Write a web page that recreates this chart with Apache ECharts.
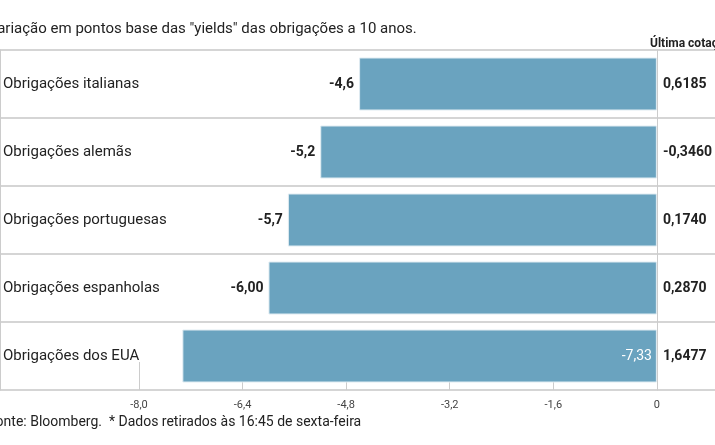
<!DOCTYPE html>
<html>
<head>
<meta charset="utf-8">
<script src="https://cdn.jsdelivr.net/npm/echarts@6/dist/echarts.min.js"></script>
<style>body{margin:0}#c{width:715px;height:445px}</style>
</head>
<body>
<div id="c"></div>
<script>
var categories = ['Obrigações italianas', 'Obrigações alemãs', 'Obrigações portuguesas', 'Obrigações espanholas', 'Obrigações dos EUA'];
var values = [-4.6, -5.2, -5.7, -6.00, -7.33];
var valueLabels = ['-4,6', '-5,2', '-5,7', '-6,00', '-7,33'];
var quotes = ['0,6185', '-0,3460', '0,1740', '0,2870', '1,6477'];
var F = '"Liberation Sans Narrow", "Roboto", sans-serif';

var chart = echarts.init(document.getElementById('c'));
chart.setOption({
  animation: false,
  textStyle: { fontFamily: F },
  title: [
    { text: 'Variação em pontos base das "yields" das obrigações a 10 anos.', left: -17, top: 17,
      textStyle: { fontSize: 15, fontWeight: 'normal', color: '#222', fontFamily: F } },
    { text: 'Última cotação*', left: 645, top: 33,
      textStyle: { fontSize: 12, fontWeight: 'bold', color: '#222', fontFamily: F } },
    { text: 'Fonte: Bloomberg.  * Dados retirados às 16:45 de sexta-feira', left: -17, top: 410,
      textStyle: { fontSize: 14, fontWeight: 'normal', color: '#222', fontFamily: F } }
  ],
  grid: [
    { left: 127, right: 52, top: 50, bottom: 55 },
    { left: 0, right: 0, top: 50, bottom: 55 }
  ],
  xAxis: [
    { type: 'value', gridIndex: 0, min: -8, max: 0, interval: 1.6,
      axisLine: { show: false }, splitLine: { show: false },
      axisTick: { show: true, inside: true, length: 28, lineStyle: { color: '#ccc' } },
      axisLabel: { color: '#444', fontSize: 11, margin: 10,
        formatter: function (v) { return v === 0 ? '0' : v.toFixed(1).replace('.', ','); } } },
    { type: 'value', gridIndex: 1, show: false, min: 0, max: 1 }
  ],
  yAxis: [
    { type: 'category', gridIndex: 0, data: categories, inverse: true, position: 'left',
      axisLine: { show: false }, axisTick: { show: false },
      axisLabel: { align: 'left', margin: 136, fontSize: 15, color: '#222' } },
    { type: 'category', gridIndex: 0, data: quotes, inverse: true, position: 'right',
      axisLine: { show: true, lineStyle: { color: '#ccc' } }, axisTick: { show: false },
      axisLabel: { margin: 6, fontSize: 14, fontWeight: 'bold', color: '#222' } },
    { type: 'category', gridIndex: 1, data: categories, inverse: true,
      axisLine: { show: true, lineStyle: { color: '#ccc' } }, axisTick: { show: false }, axisLabel: { show: false },
      splitLine: { show: true, lineStyle: { color: '#d5d5d5', width: 2 } } }
  ],
  series: [{
    type: 'bar', xAxisIndex: 0, yAxisIndex: 0, barWidth: 53,
    itemStyle: { color: '#6aa3bf', borderColor: '#e0ecf2', borderWidth: 1 },
    data: values.map(function (v, i) {
      var inside = i === values.length - 1;
      return { value: v, label: {
        show: true, position: inside ? 'insideRight' : 'left',
        formatter: valueLabels[i], fontSize: 14,
        fontWeight: inside ? 'normal' : 'bold', color: inside ? '#fff' : '#222',
        offset: inside ? [0, 0] : [0, 0]
      } };
    })
  }]
});
</script>
</body>
</html>
